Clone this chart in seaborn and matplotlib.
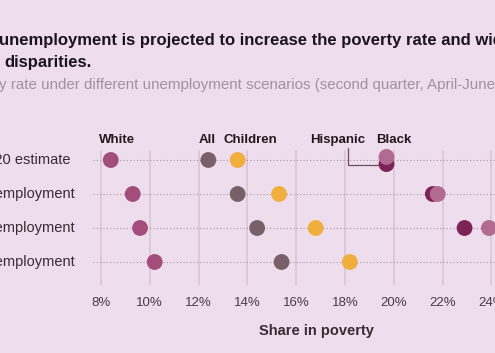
import numpy as np
import pandas as pd
import seaborn as sns
import matplotlib.pyplot as plt

# Data (share in poverty, %)
scenarios = ['2020 estimate', '10% unemployment', '15% unemployment', '20% unemployment']
groups = ['White', 'All', 'Children', 'Hispanic', 'Black']
white = [8.4, 9.3, 9.6, 10.2]
all_people = [12.4, 13.6, 14.4, 15.4]
children = [13.6, 15.3, 16.8, 18.2]
hispanic = [19.7, 21.6, 22.9, 25.2]
black = [19.7, 21.8, 23.9, 26.4]

colors = {'White': '#a34d7b', 'All': '#786068', 'Children': '#efae3e',
          'Hispanic': '#7c2455', 'Black': '#b36a90'}
bg = '#eedded'

rows = []
for i, s in enumerate(scenarios):
    for g, vals in zip(groups, [white, all_people, children, hispanic, black]):
        rows.append({'scenario': s, 'row': i, 'group': g, 'rate': vals[i]})
df = pd.DataFrame(rows)
# nudge overlapping Hispanic/Black dots in the first row
df['y'] = df['row'].astype(float)
df.loc[(df['row'] == 0) & (df['group'] == 'Hispanic'), 'y'] += 0.12
df.loc[(df['row'] == 0) & (df['group'] == 'Black'), 'y'] -= 0.09

sns.set_style('white')
plt.rcParams['font.family'] = ['Liberation Sans', 'DejaVu Sans']

W, H = 495, 353
fig = plt.figure(figsize=(W / 100, H / 100), dpi=100, facecolor=bg)
ax = fig.add_axes([93 / W, 1 - 285 / H, (W - 93) / W, (285 - 150) / H])
ax.set_facecolor(bg)

px = 24.4  # pixels per percentage point
ax.set_xlim(8 - 8 / px, 8 + (W - 101) / px)
ax.set_ylim(3 + 23 / 34, -10 / 34)

# vertical gridlines
for t in range(8, 26, 2):
    ax.axvline(t, color='#dcc8d7', lw=1.4, zorder=0)
# dotted row lines
for i in range(len(scenarios)):
    ax.axhline(i, color='#a896a4', lw=0.8, ls=(0, (1, 2)), zorder=1)

sns.scatterplot(data=df, x='rate', y='y', hue='group', palette=colors,
                hue_order=['White', 'All', 'Children', 'Hispanic', 'Black'],
                s=130, linewidth=0, legend=False, ax=ax, zorder=3, clip_on=False)

for sp in ax.spines.values():
    sp.set_visible(False)
ax.set_yticks([])
ax.set_xticks(range(8, 26, 2))
ax.set_xticklabels([f'{t}%' for t in range(8, 26, 2)], fontsize=9.5, color='#4a3a45')
ax.tick_params(axis='x', length=0, pad=9)
ax.set_xlabel('Share in poverty', fontsize=10.5, fontweight='bold', color='#3a2a35')
ax.set_ylabel('')
ax.xaxis.set_label_coords((316 - 93) / (W - 93), -0.29)

# row labels
row_right = [70, 75, 75, 75]
for i, s in enumerate(scenarios):
    ax.text(row_right[i] / W, 1 - (160 + i * 34) / H, s, transform=fig.transFigure,
            ha='right', va='center', fontsize=10.5, color='#3a2a35')

# group labels
label_x = {'White': 117, 'All': 207, 'Children': 250, 'Hispanic': 338, 'Black': 394}
for g, xp in label_x.items():
    ax.text(8 + (xp - 101) / px, -0.6, g, ha='center', va='center',
            fontsize=9.5, fontweight='bold', color='#241820', clip_on=False)

# leader line for Hispanic
lx = 8 + (348 - 101) / px
ax.plot([lx, lx, hispanic[0]], [-0.36, 0.15, 0.15], color='#6b5062', lw=0.9,
        zorder=2, clip_on=False)

# titles
fig.text(-1 / W, 1 - 40 / H, 'unemployment is projected to increase the poverty rate and widen',
         fontsize=12, fontweight='bold', color='#1c1420', va='center')
fig.text(4 / W, 1 - 62 / H, 'disparities.', fontsize=12, fontweight='bold',
         color='#1c1420', va='center')
fig.text(-1 / W, 1 - 85 / H,
         'y rate under different unemployment scenarios (second quarter, April-June 2020)',
         fontsize=10.9, color='#a292a0', va='center')

fig.savefig('out.png', dpi=100, facecolor=bg)
